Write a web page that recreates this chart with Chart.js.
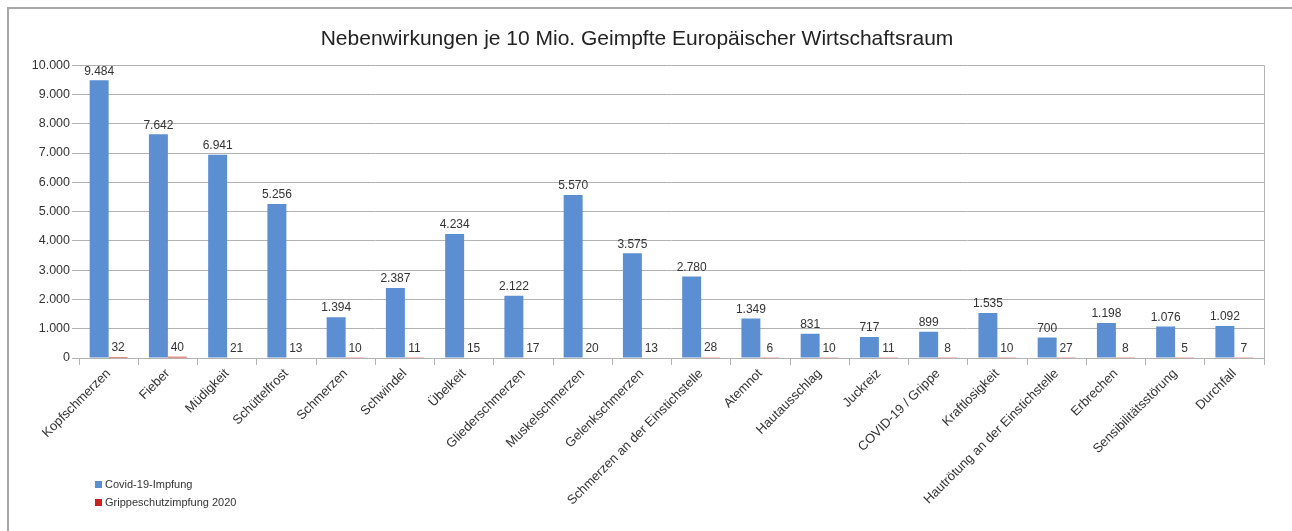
<!DOCTYPE html>
<html>
<head>
<meta charset="utf-8">
<script src="https://cdn.jsdelivr.net/npm/chart.js@4"></script>
<style>
  html, body { margin: 0; padding: 0; background: #fff; }
  #frame {
    position: absolute; left: 7px; top: 7px; width: 1300px; height: 540px;
    border-left: 2px solid #a8a8a8; border-top: 2px solid #a8a8a8;
  }
  #wrap { position: absolute; left: 0; top: 0; width: 1292px; height: 531px; }
</style>
</head>
<body>
<div id="frame"></div>
<div id="wrap"><canvas id="chart"></canvas></div>
<script>
const categories = [
  "Kopfschmerzen", "Fieber", "Müdigkeit", "Schüttelfrost", "Schmerzen",
  "Schwindel", "Übelkeit", "Gliederschmerzen", "Muskelschmerzen", "Gelenkschmerzen",
  "Schmerzen an der Einstichstelle", "Atemnot", "Hautausschlag", "Juckreiz",
  "COVID-19 / Grippe", "Kraftlosigkeit", "Hautrötung an der Einstichstelle",
  "Erbrechen", "Sensibilitätsstörung", "Durchfall"
];
const covidValues = [9484, 7642, 6941, 5256, 1394, 2387, 4234, 2122, 5570, 3575,
  2780, 1349, 831, 717, 899, 1535, 700, 1198, 1076, 1092];
const fluValues = [32, 40, 21, 13, 10, 11, 15, 17, 20, 13,
  28, 6, 10, 11, 8, 10, 27, 8, 5, 7];
const seriesNames = ["Covid-19-Impfung", "Grippeschutzimpfung 2020"];
const yTicks = [0, 1000, 2000, 3000, 4000, 5000, 6000, 7000, 8000, 9000, 10000];

const FONT = "'Liberation Sans', Arial, sans-serif";
const fmt = v => v.toLocaleString("de-DE");

// value labels above every bar
const barLabels = {
  id: "barLabels",
  afterDatasetsDraw(chart) {
    const ctx = chart.ctx;
    ctx.save();
    ctx.font = "12px " + FONT;
    ctx.fillStyle = "#333";
    ctx.textAlign = "center";
    ctx.textBaseline = "bottom";
    chart.data.datasets.forEach((ds, di) => {
      chart.getDatasetMeta(di).data.forEach((bar, i) => {
        ctx.fillText(fmt(ds.data[i]), bar.x, bar.y - 3);
      });
    });
    ctx.restore();
  }
};

// small legend under the axis, bottom left
const sideLegend = {
  id: "sideLegend",
  afterDraw(chart) {
    const ctx = chart.ctx;
    ctx.save();
    ctx.font = "11px " + FONT;
    ctx.textBaseline = "middle";
    chart.data.datasets.forEach((ds, di) => {
      const y = 485 + di * 18;
      ctx.fillStyle = ds.backgroundColor;
      ctx.fillRect(95, y - 4, 7, 7);
      ctx.fillStyle = "#333";
      ctx.fillText(ds.label, 105, y);
    });
    ctx.restore();
  }
};

new Chart(document.getElementById("chart"), {
  type: "bar",
  data: {
    labels: categories,
    datasets: [
      { label: seriesNames[0], data: covidValues, backgroundColor: "#5b8fd1" },
      { label: seriesNames[1], data: fluValues, backgroundColor: "#c9211e" }
    ]
  },
  options: {
    responsive: true,
    maintainAspectRatio: false,
    animation: false,
    layout: { padding: { left: 10, right: 28, top: 0, bottom: 0 } },
    categoryPercentage: 0.64,
    barPercentage: 1.0,
    plugins: {
      legend: { display: false },
      tooltip: { enabled: false },
      title: {
        display: true,
        text: "Nebenwirkungen je 10 Mio. Geimpfte Europäischer Wirtschaftsraum",
        color: "#222",
        font: { family: FONT, size: 21, weight: "normal" },
        padding: { top: 27, bottom: 13 }
      }
    },
    scales: {
      x: {
        offset: true,
        grid: {
          offset: true,
          drawOnChartArea: true,
          color: c => (c.tick === undefined ? "#b3b3b3" : "rgba(0,0,0,0)"),
          tickColor: "#b3b3b3",
          tickLength: 7
        },
        border: { display: false },
        ticks: {
          autoSkip: false,
          minRotation: 45,
          maxRotation: 45,
          color: "#333",
          font: { family: FONT, size: 13 },
          padding: 1
        },
        afterFit: s => { s.height = 173; }
      },
      y: {
        min: 0,
        max: 10000,
        afterBuildTicks: s => { s.ticks = yTicks.map(v => ({ value: v })); },
        grid: { color: "#b3b3b3", tickLength: 7, tickColor: "#b3b3b3" },
        border: { display: false },
        ticks: {
          color: "#333",
          font: { family: FONT, size: 12.5 },
          padding: 2,
          callback: v => fmt(v)
        },
        afterFit: s => { s.width = 69; }
      }
    }
  },
  plugins: [barLabels, sideLegend]
});
</script>
</body>
</html>
